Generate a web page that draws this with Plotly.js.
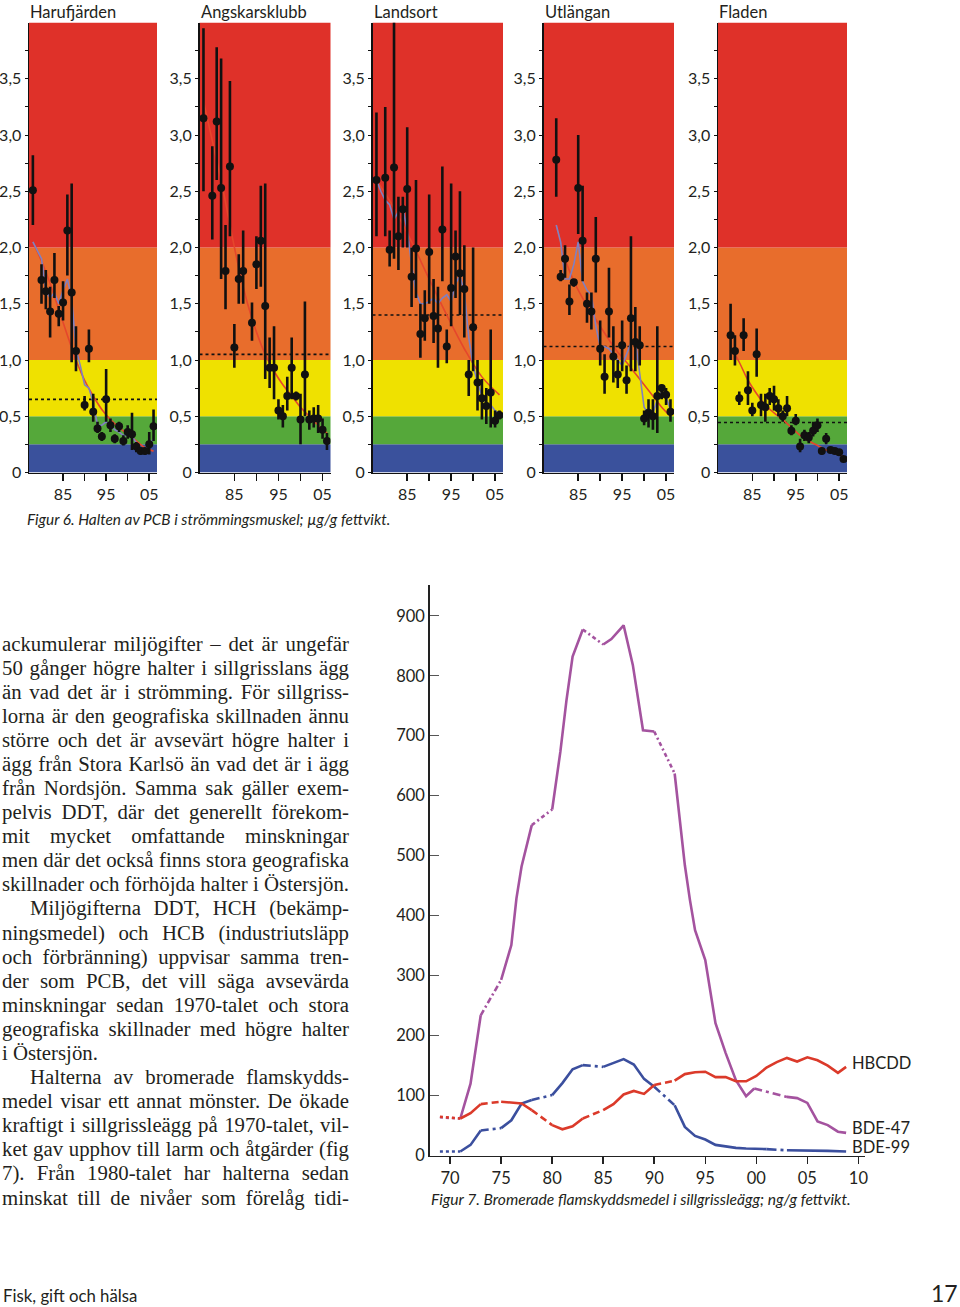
<!DOCTYPE html>
<html><head><meta charset="utf-8">
<script src="https://cdn.plot.ly/plotly-3.0.1.min.js"></script>
<style>
html,body{margin:0;padding:0;background:#fff;}
#wrap{position:relative;width:960px;height:1307px;overflow:hidden;}
#chart{position:absolute;left:0;top:0;width:960px;height:1307px;}
#body{position:absolute;left:0;top:0;width:360px;height:1307px;font-family:"Liberation Serif","Times New Roman",serif;font-size:20.8px;color:#231f20;}
.ln{position:absolute;white-space:nowrap;line-height:24px;}
</style></head>
<body><div id="wrap"><div id="chart"></div><div id="body"></div></div>
<script>
// ---------------- DATA: Figur 6 (PCB in herring muscle) ----------------
const stations = ["Harufjärden","Angskarsklubb","Landsort","Utlängan","Fladen"];
const yTickVals = [0,0.5,1,1.5,2,2.5,3,3.5];
const yTickText = ["0","0,5","1,0","1,5","2,0","2,5","3,0","3,5"];
const xTickVals = [1985,1990,1995,2000,2005];
const xTickText = ["85","","95","","05"];
const bandEdges = [0,0.25,0.5,1,2,4];
const refLevels = [0.65,1.05,1.40,1.12,0.445];

const haruYears  = [1978,1980,1981,1982,1983,1984,1985,1986,1987,1988,1990,1991,1992,1993,1994,1995,1996,1997,1998,1999,2000,2001,2002,2003,2004,2005,2006];
const haruValues = [2.51,1.71,1.61,1.43,1.71,1.41,1.51,2.15,1.60,1.08,0.60,1.10,0.54,0.39,0.32,0.65,0.42,0.30,0.41,0.28,0.36,0.34,0.23,0.19,0.19,0.25,0.41];
const haruHigh   = [2.82,1.85,1.80,1.65,1.95,1.48,1.70,2.47,2.57,1.30,0.68,1.27,0.70,0.45,0.36,0.92,0.48,0.34,0.45,0.33,0.42,0.53,0.27,0.22,0.22,0.36,0.56];
const haruLow    = [2.20,1.50,1.45,1.20,1.55,1.30,1.35,1.75,0.98,0.90,0.55,0.98,0.45,0.35,0.28,0.45,0.36,0.26,0.36,0.24,0.30,0.20,0.18,0.16,0.16,0.16,0.28];
const haruMeanYears = [1978,1980,1981,1982,1983,1984,1985,1986,1987,1988,1989,1990,1991,1992,1993,1994,1995,1996,1997,1998,1999,2000,2001,2002,2003,2004,2005,2006];
const haruMean      = [2.05,1.90,1.62,1.55,1.60,1.50,1.62,1.72,1.55,1.10,0.95,0.78,0.75,0.62,0.42,0.42,0.45,0.42,0.38,0.36,0.33,0.33,0.32,0.26,0.21,0.21,0.25,0.30];
const haruTrendYears = [1978,1980,1982,1984,1986,1988,1990,1992,1994,1996,1998,2000,2002,2004,2006];
const haruTrend      = [2.05,1.88,1.68,1.45,1.22,1.00,0.82,0.68,0.56,0.47,0.40,0.34,0.28,0.22,0.19];

const angsYears  = [1978,1980,1981,1982,1983,1984,1985,1986,1987,1989,1990,1991,1992,1993,1994,1995,1996,1997,1998,1999,2000,2001,2002,2003,2004,2005,2006];
const angsValues = [3.15,2.46,3.12,2.53,1.79,2.72,1.11,1.72,1.79,1.33,1.85,2.06,1.48,0.93,0.93,0.55,0.50,0.68,0.93,0.68,0.47,0.87,0.47,0.48,0.48,0.38,0.28];
const angsHigh   = [3.95,2.90,3.78,3.68,2.20,3.48,1.32,1.94,2.15,1.51,2.10,2.55,2.57,1.20,1.30,0.65,0.60,0.85,1.20,0.72,0.70,1.52,0.55,0.58,0.60,0.48,0.35];
const angsLow    = [2.50,2.07,2.60,1.72,1.45,2.10,0.93,1.50,1.50,1.17,1.63,1.65,0.83,0.75,0.65,0.47,0.40,0.55,0.65,0.64,0.25,0.50,0.38,0.40,0.35,0.30,0.20];
const angsTrendYears = [1978,1980,1982,1984,1986,1988,1990,1992,1994,1996,1998,2000,2002,2004,2006];
const angsTrend      = [3.30,2.95,2.60,2.20,1.82,1.50,1.25,1.05,0.90,0.78,0.68,0.58,0.50,0.42,0.35];

const landYears  = [1978,1980,1981,1982,1983,1984,1985,1986,1987,1988,1989,1990,1991,1992,1993,1994,1995,1996,1997,1998,1999,2000,2001,2002,2003,2004,2005,2006];
const landValues = [2.60,2.62,1.98,2.71,2.10,2.34,2.52,1.74,1.99,1.23,1.37,1.96,1.39,1.28,2.16,1.12,1.64,1.92,1.77,1.63,0.87,1.29,0.80,0.66,0.59,0.71,0.46,0.51];
const landHigh   = [3.20,3.25,2.15,4.00,2.45,2.45,3.07,2.00,2.60,1.50,1.62,2.47,1.72,1.65,2.72,1.27,2.57,2.15,2.50,2.02,1.00,2.00,1.00,0.83,0.75,1.27,0.55,0.55];
const landLow    = [2.10,2.10,1.83,1.90,1.80,2.00,2.00,1.47,1.55,1.02,1.17,1.50,1.15,0.93,1.70,0.97,1.30,1.55,1.40,1.20,0.68,0.90,0.55,0.47,0.43,0.40,0.40,0.47];
const landMeanYears = [1978,1979,1980,1981,1982,1983,1984,1985,1986,1987,1988,1989,1990,1991,1992,1993,1994,1995,1996,1997,1998,1999,2000,2001,2002,2003,2004,2005,2006];
const landMean      = [2.60,2.50,2.42,2.38,2.25,2.32,2.35,2.15,1.85,1.60,1.50,1.50,1.52,1.55,1.50,1.55,1.58,1.52,1.68,1.75,1.60,1.20,0.95,0.80,0.68,0.62,0.60,0.55,0.52];
const landTrendYears = [1978,1982,1986,1990,1994,1998,2002,2006];
const landTrend      = [2.60,2.35,2.05,1.72,1.40,1.10,0.85,0.69];

const utlaYears  = [1980,1981,1982,1983,1984,1985,1986,1987,1988,1989,1990,1991,1992,1993,1994,1995,1996,1997,1998,1999,2000,2001,2002,2003,2004,2005,2006];
const utlaValues = [2.78,1.74,1.90,1.52,1.69,2.53,2.06,1.50,1.43,1.90,1.10,0.85,1.43,1.03,0.87,1.13,0.82,1.37,1.16,1.13,0.48,0.53,0.50,0.68,0.75,0.69,0.54];
const utlaHigh   = [3.15,1.80,2.02,1.67,1.72,3.00,2.55,1.60,1.60,2.27,1.35,1.05,1.82,1.30,1.00,1.35,0.95,2.10,1.47,1.30,0.55,0.65,0.65,1.30,0.78,0.75,0.65];
const utlaLow    = [2.45,1.70,1.73,1.40,1.65,2.12,1.70,1.33,1.27,1.60,0.95,0.70,1.20,0.80,0.75,0.90,0.70,0.90,0.90,0.95,0.42,0.40,0.38,0.35,0.65,0.60,0.45];
const utlaMeanYears = [1980,1981,1982,1983,1984,1985,1986,1987,1988,1989,1990,1991,1992,1993,1994,1995,1996,1997,1998,1999,2000,2001,2002,2003,2004,2005,2006];
const utlaMean      = [2.20,2.05,1.72,1.72,1.85,2.05,1.70,1.62,1.58,1.30,1.12,1.12,1.10,1.05,1.00,0.95,1.05,1.15,1.18,0.90,0.58,0.52,0.52,0.65,0.72,0.68,0.55];
const utlaTrendYears = [1980,1982,1984,1986,1988,1990,1992,1994,1996,1998,2000,2002,2004,2006];
const utlaTrend      = [2.20,1.90,1.70,1.55,1.42,1.30,1.18,1.07,0.98,0.88,0.78,0.68,0.58,0.50];

const fladYears  = [1980,1981,1982,1983,1984,1985,1986,1987,1988,1989,1990,1991,1992,1993,1994,1995,1996,1997,1998,1999,2000,2001,2002,2003,2004,2005,2006];
const fladValues = [1.22,1.08,0.66,1.22,0.73,0.55,1.05,0.60,0.58,0.68,0.65,0.57,0.50,0.57,0.37,0.46,0.23,0.33,0.31,0.37,0.42,0.19,0.30,0.20,0.19,0.18,0.12];
const fladHigh   = [1.50,1.22,0.72,1.37,0.90,0.62,1.28,0.70,0.70,0.75,0.77,0.65,0.55,0.68,0.42,0.52,0.30,0.38,0.36,0.45,0.48,0.22,0.35,0.22,0.21,0.20,0.14];
const fladLow    = [1.00,0.95,0.60,1.08,0.60,0.50,0.85,0.50,0.45,0.60,0.55,0.50,0.45,0.50,0.33,0.42,0.18,0.28,0.26,0.32,0.36,0.16,0.25,0.18,0.17,0.16,0.10];
const fladTrendYears = [1980,1982,1984,1986,1988,1990,1992,1994,1996,1998,2000,2002,2004,2006];
const fladTrend      = [1.12,0.98,0.82,0.70,0.60,0.53,0.47,0.40,0.33,0.28,0.24,0.20,0.17,0.14];

// ---------------- DATA: Figur 7 (brominated flame retardants) ----------------
const fig7XTickVals = [1970,1975,1980,1985,1990,1995,2000,2005,2010];
const fig7XTickText = ["70","75","80","85","90","95","00","05","10"];
const fig7YTickVals = [0,100,200,300,400,500,600,700,800,900];
const fig7YTickText = ["0","100","200","300","400","500","600","700","800","900"];

const bde47Years  = [1969,1971,1972,1973,1975,1976,1976.5,1977,1978,1980,1980.8,1981.4,1982,1983,1985,1985.8,1987,1987.9,1988.9,1990,1992,1993,1993.5,1994,1995,1996,1997,1998,1999,1999.8,2003,2004,2005,2006,2007,2008,2008.8];
const bde47Values = [64,62,120,234,293,351,429,482,551,577,673,759,832,877,852,861,884,818,709,707,637,484,426,376,326,221,171,126,99,112,98,96,88,57,51,40,38];
const bde99Years  = [1969,1971,1972,1973,1975,1976,1977,1978,1980,1981,1982,1983,1985,1986,1987,1988,1989,1990,1992,1993,1994,1995,1996,1998,1999,2001,2003,2005,2007,2008.8];
const bde99Values = [7,7,18,42,46,59,87,93,101,121,144,151,148,155,161,152,128,115,84,48,33,27,18,13,12,11,9,9,8,7];
const hbcddYears  = [1969,1971,1972,1973,1975,1977,1978,1980,1981,1982,1983,1985,1986,1987,1988,1989,1990,1992,1993,1994,1995,1996,1997,1998,1999,2000,2001,2002,2003,2004,2005,2006,2007,2008,2008.8];
const hbcddValues = [65,62,71,86,90,87,76,51,44,49,62,76,86,102,108,103,118,125,136,139,140,131,131,124,124,133,147,156,163,157,164,159,150,138,148];
const seriesLabels = ["HBCDD","BDE-47","BDE-99"];
const labelValues  = [155,46,15];

// ---------------- TEXT ----------------
const bodyLines = [
 "ackumulerar miljögifter – det är ungefär",
 "50 gånger högre halter i sillgrisslans ägg",
 "än vad det är i strömming. För sillgriss-",
 "lorna är den geografiska skillnaden ännu",
 "större och det är avsevärt högre halter i",
 "ägg från Stora Karlsö än vad det är i ägg",
 "från Nordsjön. Samma sak gäller exem-",
 "pelvis DDT, där det generellt förekom-",
 "mit mycket omfattande minskningar",
 "men där det också finns stora geografiska",
 "skillnader och förhöjda halter i Östersjön.",
 "Miljögifterna DDT, HCH (bekämp-",
 "ningsmedel) och HCB (industriutsläpp",
 "och förbränning) uppvisar samma tren-",
 "der som PCB, det vill säga avsevärda",
 "minskningar sedan 1970-talet och stora",
 "geografiska skillnader med högre halter",
 "i Östersjön.",
 "Halterna av bromerade flamskydds-",
 "medel visar ett annat mönster. De ökade",
 "kraftigt i sillgrissleägg på 1970-talet, vil-",
 "ket gav upphov till larm och åtgärder (fig",
 "7). Från 1980-talet har halterna sedan",
 "minskat till de nivåer som förelåg tidi-"
];
const fig6Caption = "Figur 6. Halten av PCB i strömmingsmuskel; µg/g fettvikt.";
const fig7Caption = "Figur 7. Bromerade flamskyddsmedel i sillgrissleägg; ng/g fettvikt.";
const footerLeft = "Fisk, gift och hälsa";
const footerRight = "17";

// ---------------- STYLE / LAYOUT ----------------
const W = 960, H = 1307;
const px = x => x / W, py = y => 1 - y / H;
const SANS = "Lato, 'Noto Sans', sans-serif";
const INK = "#231f20";
const bandColors = ["#3a519c","#55a83a","#efe100","#e86d2c","#df3129"];
const panelLeft = [29,199.5,372.5,543.5,718];
const panelWidth = [128,131,130.5,130.5,129];
const panelTop = 22.5, panelBottom = 472.5;
const xRange6 = [1977.1, 2006.8];

const panels = [
 {y:haruYears,v:haruValues,hi:haruHigh,lo:haruLow,my:haruMeanYears,m:haruMean,ty:haruTrendYears,t:haruTrend},
 {y:angsYears,v:angsValues,hi:angsHigh,lo:angsLow,my:null,m:null,ty:angsTrendYears,t:angsTrend},
 {y:landYears,v:landValues,hi:landHigh,lo:landLow,my:landMeanYears,m:landMean,ty:landTrendYears,t:landTrend},
 {y:utlaYears,v:utlaValues,hi:utlaHigh,lo:utlaLow,my:utlaMeanYears,m:utlaMean,ty:utlaTrendYears,t:utlaTrend},
 {y:fladYears,v:fladValues,hi:fladHigh,lo:fladLow,my:null,m:null,ty:fladTrendYears,t:fladTrend}
];

const data = [], shapes = [], annotations = [];
const layout = {
  width: W, height: H, margin:{l:0,r:0,t:0,b:0},
  paper_bgcolor:"rgba(0,0,0,0)", plot_bgcolor:"rgba(0,0,0,0)",
  showlegend:false, font:{family:SANS, color:INK, size:16}
};

panels.forEach((p,i) => {
  const n = i===0 ? "" : String(i+1);
  const xa = "x"+n, ya = "y"+n;
  layout["xaxis"+n] = {
    domain:[px(panelLeft[i]), px(panelLeft[i]+panelWidth[i])], anchor:ya,
    range:xRange6, showgrid:false, zeroline:false, showline:true, linecolor:"#111", linewidth:1.5,
    ticks:"outside", ticklen:7, tickwidth:1.5, tickcolor:"#111",
    tickvals:xTickVals, ticktext:xTickText, tickfont:{family:SANS,size:16,color:INK}, fixedrange:true
  };
  layout["yaxis"+n] = {
    domain:[py(panelBottom), py(panelTop)], anchor:xa,
    range:[0,4], showgrid:false, zeroline:false, showline:true, linecolor:"#111", linewidth:1.5,
    ticks:"outside", ticklen:3, tickwidth:1, tickcolor:"#111",
    tickvals:yTickVals, ticktext:yTickText, tickfont:{family:SANS,size:16,color:INK},
    minor:{tickvals:[0.25,0.75,1.25,1.75,2.25,2.75,3.25,3.75], ticks:"outside", ticklen:3, tickcolor:"#111"},
    fixedrange:true
  };
  for (let b=0;b<bandColors.length;b++){
    shapes.push({type:"rect", xref:xa+" domain", yref:ya, x0:0, x1:1, y0:bandEdges[b], y1:bandEdges[b+1],
      fillcolor:bandColors[b], line:{width:0}, layer:"below"});
  }
  shapes.push({type:"line", xref:xa+" domain", yref:ya, x0:0, x1:1, y0:refLevels[i], y1:refLevels[i],
    line:{color:"#111", width:1.6, dash:"dot"}, layer:"below"});
  data.push({type:"scatter", mode:"lines", x:p.ty, y:p.t, xaxis:xa, yaxis:ya,
    line:{color:"#e5472c", width:1.6, shape:"spline"}, hoverinfo:"skip"});
  if (p.my) data.push({type:"scatter", mode:"lines", x:p.my, y:p.m, xaxis:xa, yaxis:ya,
    line:{color:"#7f80c2", width:1.6}, hoverinfo:"skip"});
  data.push({type:"scatter", mode:"markers", x:p.y, y:p.v, xaxis:xa, yaxis:ya,
    marker:{color:"#111", size:8},
    error_y:{type:"data", symmetric:false,
      array:p.v.map((v,k)=>Math.max(0,p.hi[k]-v)), arrayminus:p.v.map((v,k)=>Math.max(0,v-p.lo[k])),
      color:"#111", thickness:2.6, width:0}});
  annotations.push({xref:"paper", yref:"paper", x:px(panelLeft[i]), y:py(1), xanchor:"left", yanchor:"top",
    text:stations[i], showarrow:false, font:{family:SANS, size:16.5, color:INK}, borderpad:0});
});

// Figure 7 axes
layout.xaxis6 = {
  domain:[px(429.7), px(865)], anchor:"y6", range:[1968.0, 2010.65],
  showgrid:false, zeroline:false, showline:true, linecolor:"#222", linewidth:1.5,
  ticks:"outside", ticklen:7, tickwidth:1.5, tickcolor:"#222",
  tickvals:fig7XTickVals, ticktext:fig7XTickText, tickfont:{family:SANS,size:16.5,color:INK}, fixedrange:true
};
layout.yaxis6 = {
  domain:[py(1155.7), py(585)], anchor:"x6", range:[0, 951.2],
  showgrid:false, zeroline:false, showline:true, linecolor:"#222", linewidth:1.5,
  ticks:"inside", ticklen:9, tickwidth:1.5, tickcolor:"#555",
  tickvals:fig7YTickVals, ticktext:fig7YTickText, tickfont:{family:SANS,size:16.5,color:INK}, fixedrange:true
};

const seriesDefs = [
  {x:bde47Years, y:bde47Values, color:"#a4539f",
   segs:[[0,1,"3px,3px"],[1,3,"solid"],[3,4,"6px,3px,2px,3px"],[4,8,"solid"],[8,9,"4px,3px,2px,3px"],[9,13,"solid"],[13,14,"4px,3px,2px,3px"],[14,19,"solid"],[19,20,"4px,3px,2px,3px"],[20,29,"solid"],[29,30,"8px,4px,3px,4px"],[30,36,"solid"]]},
  {x:bde99Years, y:bde99Values, color:"#3b4f9e",
   segs:[[0,1,"3px,3px"],[1,3,"solid"],[3,4,"8px,4px,3px,4px"],[4,7,"solid"],[7,8,"8px,4px,3px,4px"],[8,11,"solid"],[11,12,"8px,4px,3px,4px"],[12,17,"solid"],[17,18,"8px,4px,3px,4px"],[18,25,"solid"],[25,26,"10px,4px,3px,4px"],[26,29,"solid"]]},
  {x:hbcddYears, y:hbcddValues, color:"#db3a2a",
   segs:[[0,1,"3px,3px"],[1,3,"solid"],[3,4,"7px,4px"],[4,6,"solid"],[6,7,"7px,4px"],[7,10,"solid"],[10,11,"7px,4px"],[11,16,"solid"],[16,17,"7px,4px"],[17,34,"solid"]]}
];
seriesDefs.forEach(s => {
  s.segs.forEach(([a,b,dash]) => {
    data.push({type:"scatter", mode:"lines", x:s.x.slice(a,b+1), y:s.y.slice(a,b+1), xaxis:"x6", yaxis:"y6",
      line:{color:s.color, width:2.6, dash:dash}, hoverinfo:"skip"});
  });
});
seriesLabels.forEach((t,i) => {
  annotations.push({xref:"x6", yref:"y6", x:2009.2, y:labelValues[i], xanchor:"left", yanchor:"middle",
    text:t, showarrow:false, font:{family:SANS, size:16.5, color:INK}});
});

annotations.push({xref:"paper", yref:"paper", x:px(25), y:py(519), xanchor:"left", yanchor:"middle",
  text:fig6Caption, showarrow:false, font:{family:SANS, size:15.4, style:"italic", color:INK}});
annotations.push({xref:"paper", yref:"paper", x:px(429), y:py(1199), xanchor:"left", yanchor:"middle",
  text:fig7Caption, showarrow:false, font:{family:SANS, size:15.6, style:"italic", color:INK}});
annotations.push({xref:"paper", yref:"paper", x:px(1), y:py(1295), xanchor:"left", yanchor:"middle",
  text:footerLeft, showarrow:false, font:{family:SANS, size:16.8, color:INK}});
annotations.push({xref:"paper", yref:"paper", x:px(960), y:py(1293), xanchor:"right", yanchor:"middle",
  text:footerRight, showarrow:false, font:{family:SANS, size:23, color:INK}});

layout.shapes = shapes;
layout.annotations = annotations;
Plotly.newPlot("chart", data, layout, {staticPlot:true, displayModeBar:false});

// ---------------- Body text (justified lines) ----------------
const indentLines = [11,18];
const raggedLines = [17];
const bodyEl = document.getElementById("body");
function layoutBody(){
  bodyEl.innerHTML = "";
  bodyLines.forEach((t,i) => {
    const d = document.createElement("div"); d.className = "ln";
    const indent = indentLines.includes(i) ? 28 : 0;
    d.style.left = (2+indent)+"px";
    d.style.top = (631.5 + i*24.09)+"px";
    const s = document.createElement("span"); s.textContent = t; s.style.display="inline-block";
    d.appendChild(s); bodyEl.appendChild(d);
    const target = 347 - indent;
    const w = s.getBoundingClientRect().width;
    if (!raggedLines.includes(i)) {
      const nsp = (t.match(/ /g)||[]).length;
      if (w < target && nsp > 0) s.style.wordSpacing = ((target-w)/nsp)+"px";
      else if (w > target) { s.style.transformOrigin="0 0"; s.style.transform="scaleX("+(target/w)+")"; }
    }
  });
}
layoutBody();
if (document.fonts && document.fonts.ready) document.fonts.ready.then(layoutBody);
</script>
</body></html>
